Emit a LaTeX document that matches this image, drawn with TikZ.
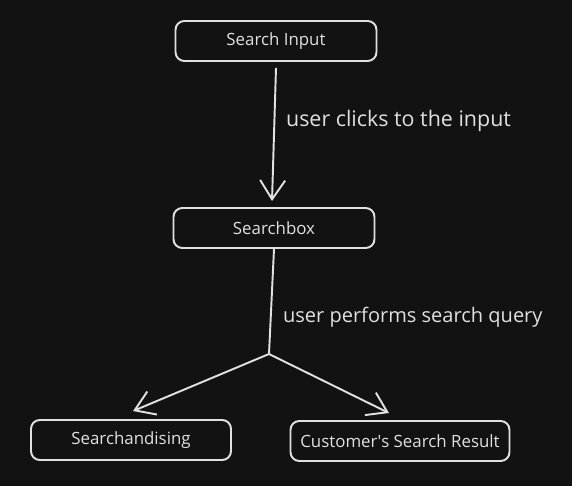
\documentclass[tikz,border=0pt]{standalone}
\usepackage{fontspec}
\setmainfont{Open Sans}
\usepackage{xcolor}
\usepackage{tikz}
\usetikzlibrary{arrows.meta,positioning,calc}

\definecolor{bgdark}{HTML}{121212}
\definecolor{inkline}{HTML}{E0E0E0}

\begin{document}
\begin{tikzpicture}[
  x=0.02cm, y=-0.02cm,
  font=\small,
  box/.style={rectangle, rounded corners=5pt, draw=inkline, line width=1.1pt,
              text=inkline, minimum height=0.8cm, inner sep=2pt, font=\fontsize{9.6}{12}\selectfont},
  flow/.style={draw=inkline, line width=1.1pt, -{Straight Barb[length=3.8mm, width=5mm, line width=1.1pt]}},
  edgelbl/.style={text=inkline, anchor=west, inner sep=1pt, font=\fontsize{12.2}{15}\selectfont},
]
\fill[bgdark] (0,0) rectangle (572,486);
\useasboundingbox (0,0) rectangle (572,486);

\node[box, minimum width=4.02cm] (input)  at (276,41)  {Search Input};
\node[box, minimum width=4.02cm] (sbox)   at (274,228) {Searchbox};
\node[box, minimum width=4.00cm] (merch)  at (131,440) {Searchandising};
\node[box, minimum width=4.38cm] (result) at (400,441) {Customer\textquotesingle s Search Result};
\coordinate (split) at (269,354);

\draw[flow] ($(input.south)+(0,6)$) -- ($(sbox.north)+(-2,-6)$);
\draw[draw=inkline, line width=1.1pt] (sbox.south) -- (split);
\draw[flow] (split) -- ($(merch.north)+(2,-8)$);
\draw[flow] (split) -- ($(result.north)+(-11,-7)$);

\node[edgelbl] (lbl1) at (284,121) {user clicks to the input};
\node[edgelbl, font=\fontsize{11.4}{14}\selectfont] (lbl2) at (281,317) {user performs search query};
\end{tikzpicture}
\end{document}
